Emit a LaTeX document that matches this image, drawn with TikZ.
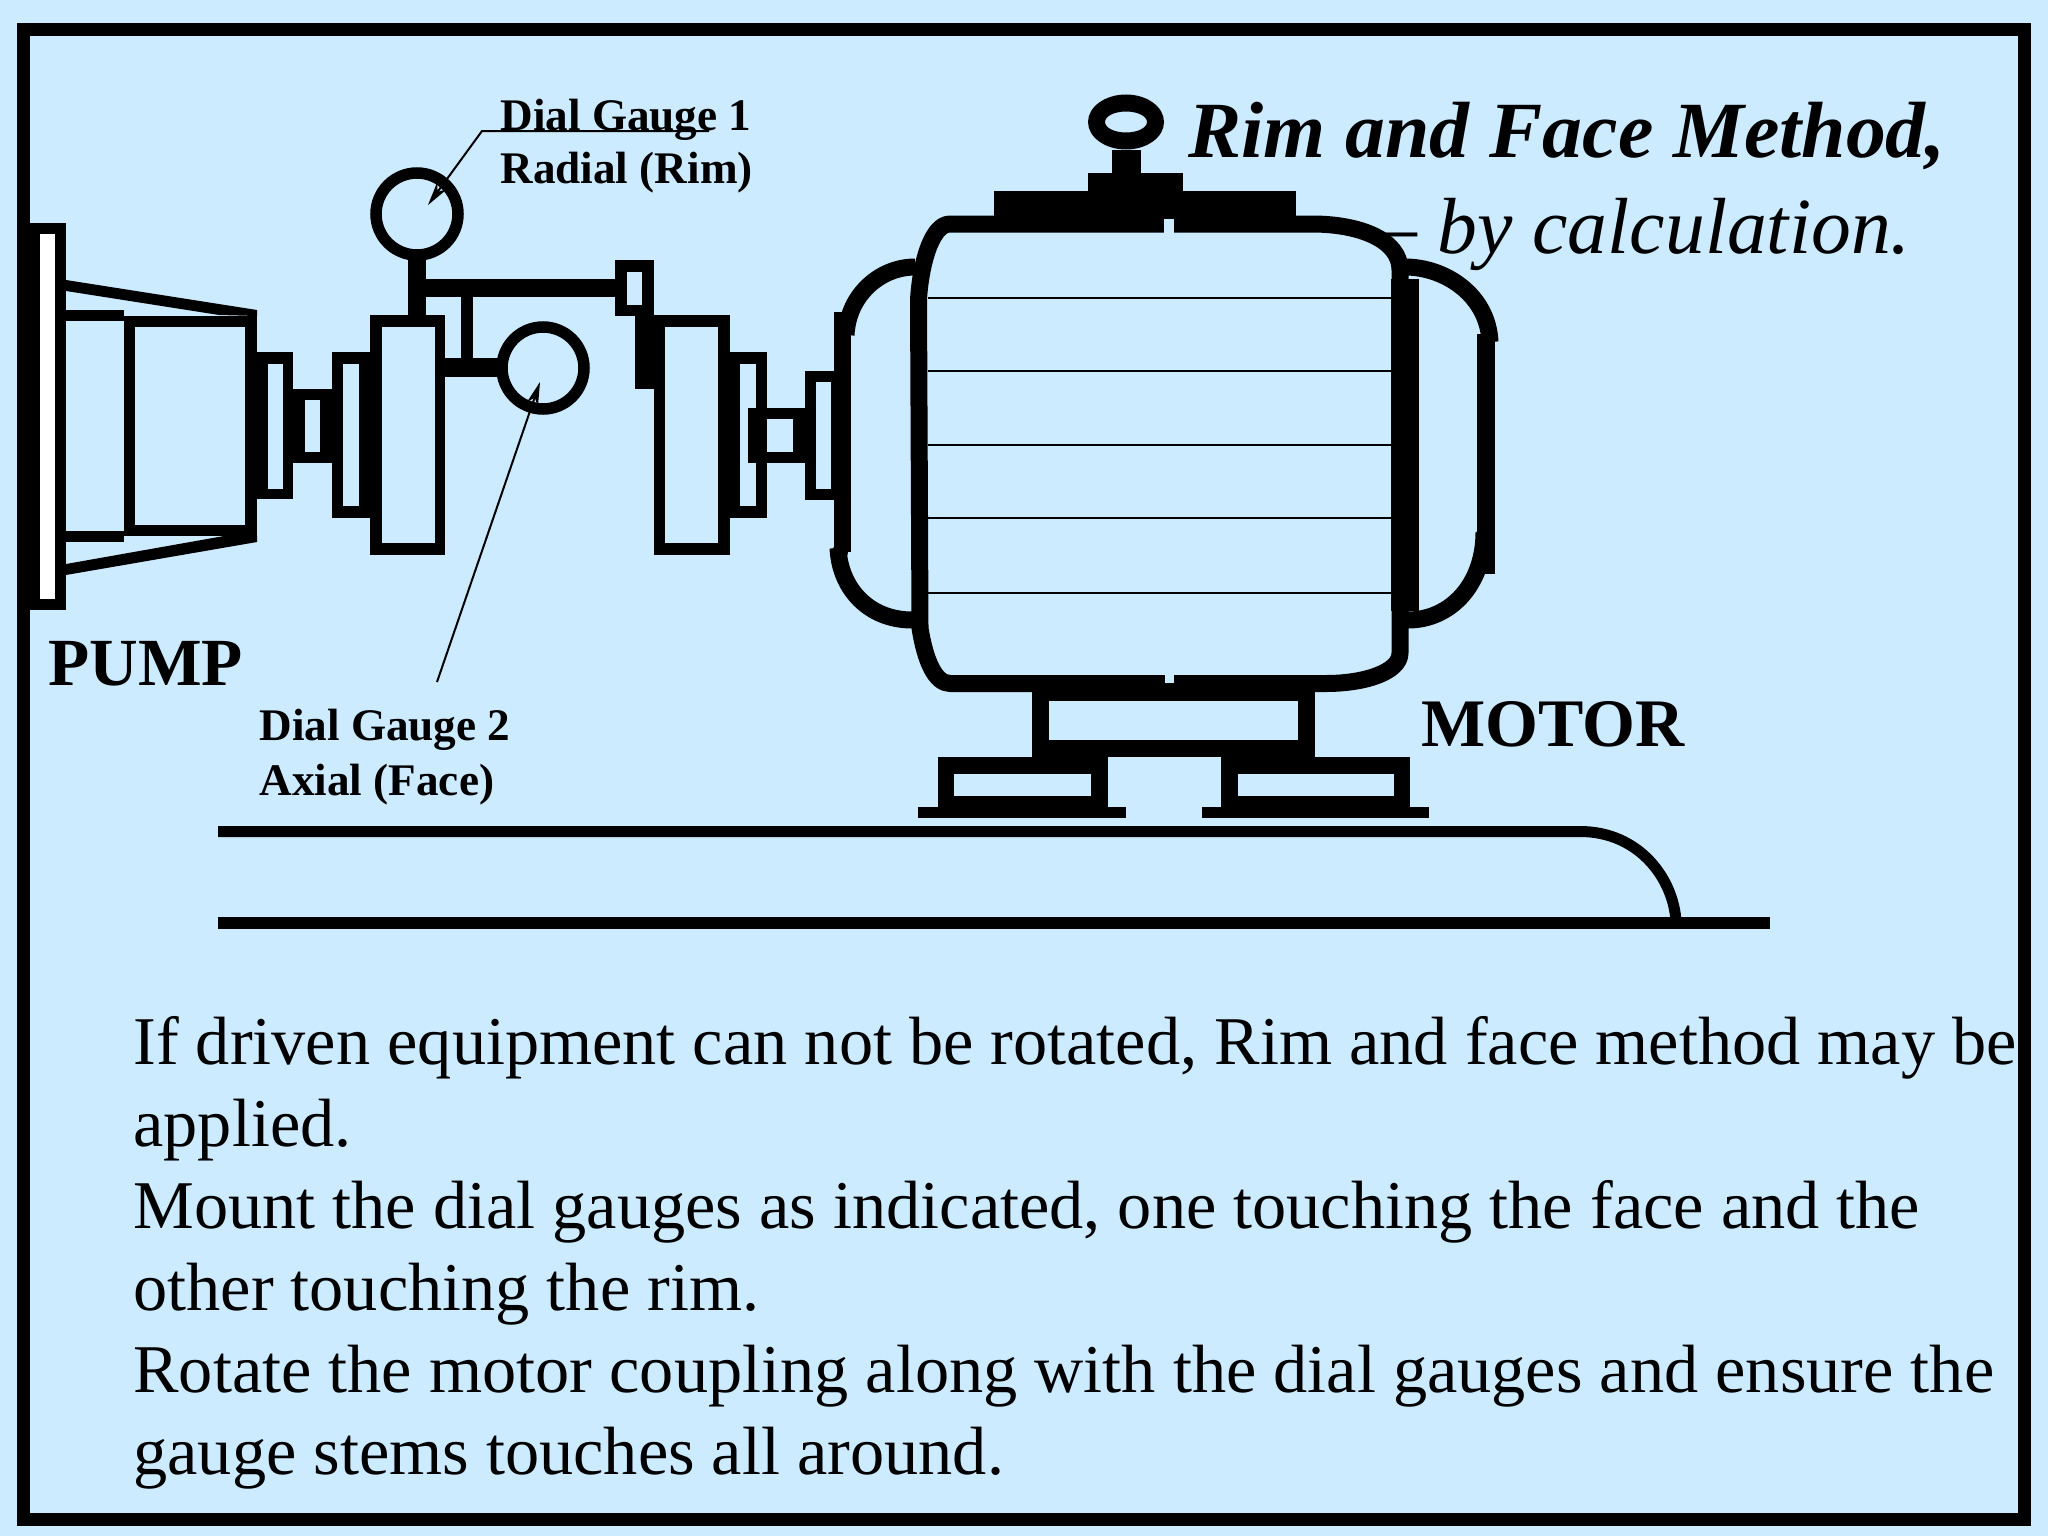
\documentclass[tikz,border=0pt]{standalone}
\usepackage{fontspec}
\setmainfont{Liberation Serif}
\usetikzlibrary{arrows.meta}
\definecolor{paper}{HTML}{CCEBFF}
\definecolor{ink}{HTML}{000000}
\newcommand{\hollowbox}[8]{\fill[ink] (#1,#2) rectangle (#3,#4); \fill[paper] (#5,#6) rectangle (#7,#8);}
\tikzset{
  x=0.5pt,y=-0.5pt,
  casing/.style={draw=ink,line width=8.5pt,line join=round},
  bell/.style={draw=ink,line width=8.5pt},
  winding/.style={draw=ink,line width=1pt},
  leader/.style={draw=ink,line width=1pt},
  dial/.style={draw=ink,fill=paper,line width=5.75pt,circle,minimum size=41pt,inner sep=0pt},
  lbl/.style={inner sep=0pt,anchor=base west,text=ink},
  small/.style={lbl,font=\bfseries\fontsize{22.6}{22.6}\selectfont},
  big/.style={lbl,font=\bfseries\fontsize{34}{34}\selectfont},
  body/.style={lbl,font=\fontsize{34.15}{34.15}\selectfont},
}
\begin{document}
\begin{tikzpicture}
\useasboundingbox (0,0) rectangle (2048,1536);
\fill[paper] (0,0) rectangle (2048,1536);
\draw[ink,line width=6.5pt,miter limit=10] (23.5,29.5) rectangle (2024.5,1519);

% title
\node[lbl,font=\bfseries\itshape\fontsize{39.85}{39.85}\selectfont] (title) at (1188,157) {Rim and Face Method,};
\node[lbl,anchor=base east,font=\itshape\fontsize{39.8}{39.8}\selectfont] (subtitle) at (1911,253) {– by calculation.};

% pump
\fill[ink] (17,223) rectangle (66,610);
\fill[white] (40,234) rectangle (55,599);
\fill[ink] (66,280) -- (257,310) -- (257,316) -- (219,315) -- (66,291) -- cycle;
\fill[ink] (66,564) -- (224,536) -- (257,536) -- (257,542) -- (66,575) -- cycle;
\fill[ink] (66,310) rectangle (124,321);
\fill[ink] (66,531) rectangle (124,542);
\hollowbox{124}{316}{257}{536}{135}{327}{245}{525}

% pump coupling
\hollowbox{257}{352}{293}{499}{268}{364}{283}{489}
\hollowbox{293}{389}{333}{463}{305}{400}{320}{452}
\hollowbox{332}{352}{370}{518}{343}{364}{359}{506}
\hollowbox{370}{315}{445}{555}{382}{327}{435}{543}

% bracket
\fill[ink] (408,255) rectangle (426,316);
\fill[ink] (426,279) rectangle (635,297);
\hollowbox{615}{260}{654}{316}{627}{272}{642}{305}
\fill[ink] (635,316) rectangle (654,389);
\fill[ink] (461,297) rectangle (473,358);
\fill[ink] (445,358) rectangle (505,377);

% motor coupling
\hollowbox{654}{315}{730}{555}{665}{327}{718}{543}
\hollowbox{730}{352}{767}{518}{740}{364}{756}{506}
\hollowbox{748}{408}{805}{463}{767}{419}{793}{452}
\hollowbox{805}{371}{836}{500}{816}{382}{831}{489}

% dials
\node[dial] (dialone) at (417,214) {};
\node[dial] (dialtwo) at (543,368) {};

% motor end bells
\fill[ink] (834,312) rectangle (851,552);
\fill[ink] (1477,334) rectangle (1495,574);
\draw[bell] (915,267) .. controls (880,267) and (848,295) .. (846,335);
\draw[bell] (838,548) .. controls (840,590) and (870,620) .. (912,620);
\draw[bell] (1405,267) .. controls (1445,267) and (1488,295) .. (1490,342);
\draw[bell] (1484,532) .. controls (1484,585) and (1450,620) .. (1408,620);
\fill[ink] (840,552) circle [radius=8];
\fill[ink] (844,336) circle [radius=7];

% motor body
\draw[casing,fill=paper] (950,224) -- (1312,224)
  .. controls (1360,224) and (1400,240) .. (1400,270) -- (1400,653)
  .. controls (1400,672) and (1365,683.5) .. (1326,683.5) -- (950,683.5)
  .. controls (935,683.5) and (925,660) .. (920,628) -- (918.5,300)
  .. controls (920,270) and (930,224) .. (950,224) -- cycle;
\fill[ink] (1391,279) rectangle (1419,611);
\foreach \yy in {298,371,445,518,593} \draw[winding] (928,\yy) -- (1391,\yy);

% lifting eye
\fill[ink] (994,191) rectangle (1296,222);
\fill[ink] (1088,173) rectangle (1183,191);
\fill[ink] (1112,150) rectangle (1141,173);
\fill[ink,even odd rule] (1126,122) ellipse [x radius=38,y radius=27.5] (1126,122) ellipse [x radius=21,y radius=10.5];
\fill[paper] (1164,219) rectangle (1174,233);
\fill[paper] (1165,674) rectangle (1174,683);

% feet
\hollowbox{1032}{690}{1315}{757}{1049}{701}{1298}{740}
\hollowbox{938}{757}{1108}{807}{954}{774}{1091}{796}
\hollowbox{1221}{757}{1410}{807}{1238}{774}{1394}{796}
\fill[ink] (918,807) rectangle (1126,818);
\fill[ink] (1202,807) rectangle (1429,818);

% rails
\draw[ink,line width=5.5pt] (218,831.5) -- (1580,831.5) .. controls (1640,831.5) and (1674,880) .. (1676,922);
\fill[ink] (218,917) rectangle (1770,929);

% leaders
\coordinate (lineone) at (709,131);
\coordinate (kneeone) at (482,131);
\coordinate (tipone) at (428,205);
\coordinate (linetwo) at (437,682);
\coordinate (tiptwo) at (540,382);
\draw[leader,-{Stealth[length=12pt,width=6pt]}] (lineone) -- (kneeone) -- (tipone);
\draw[leader,-{Stealth[length=12pt,width=6pt]}] (linetwo) -- (tiptwo);

% labels
\node[small] (gaugeone) at (500,130) {Dial Gauge 1};
\node[small] (rim) at (500,183) {Radial (Rim)};
\node[small] (gaugetwo) at (259,740) {Dial Gauge 2};
\node[small] (face) at (259,795) {Axial (Face)};
\node[big,font=\bfseries\fontsize{33.7}{33.7}\selectfont] (pump) at (48,685) {PUMP};
\node[big] (motor) at (1421,746) {MOTOR};

% body text
\node[body] (t1) at (133,1064) {If driven equipment can not be rotated, Rim and face method may be};
\node[body] (t2) at (133,1146) {applied.};
\node[body] (t3) at (133,1228) {Mount the dial gauges as indicated, one touching the face and the};
\node[body] (t4) at (133,1310) {other touching the rim.};
\node[body] (t5) at (133,1392) {Rotate the motor coupling along with the dial gauges and ensure the};
\node[body] (t6) at (133,1474) {gauge stems touches all around.};
\end{tikzpicture}
\end{document}
